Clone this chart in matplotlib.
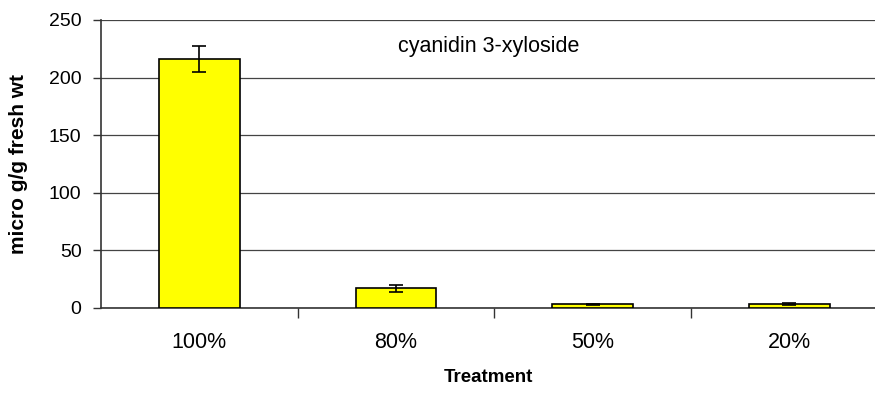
import matplotlib.pyplot as plt
import numpy as np

plt.rcParams['font.family'] = ['Liberation Sans', 'DejaVu Sans']

treatments = ['100%', '80%', '50%', '20%']
values = [216, 17, 3.2, 3.2]
errors = [11, 2.8, 0.3, 1.0]

fig = plt.figure(figsize=(8.75, 4), dpi=100)
ax = fig.add_axes([101 / 875, 92 / 400, 774 / 875, 288 / 400])

x = np.arange(len(treatments))
ax.bar(x, values, width=0.41, color='#ffff00', edgecolor='black', linewidth=1.2, zorder=3)
ax.errorbar(x, values, yerr=errors, fmt='none', ecolor='black', elinewidth=1.2,
            capsize=5, capthick=1.2, zorder=4)

ax.set_ylim(0, 250)
ax.set_xlim(-0.5, 3.435)
ax.set_yticks(np.arange(0, 251, 50))
ax.yaxis.grid(True, color='#444444', linewidth=0.9)
ax.set_axisbelow(True)

ax.set_xticks(x)
ax.set_xticklabels(treatments, fontsize=15.5)
ax.set_xticks([0.5, 1.5, 2.5], minor=True)
ax.tick_params(axis='x', which='major', length=0, pad=17)
ax.tick_params(axis='x', which='minor', length=7, width=1, color='#333333')
ax.tick_params(axis='y', labelsize=14, length=6, width=1, color='#333333', pad=8)

for side in ['top', 'right']:
    ax.spines[side].set_visible(False)
ax.spines['left'].set_color('#333333')
ax.spines['bottom'].set_color('#333333')
ax.spines['left'].set_linewidth(1.2)
ax.spines['bottom'].set_linewidth(1.2)

ax.set_xlabel('Treatment', fontsize=13.5, fontweight='bold', va='center')
ax.xaxis.set_label_coords(0.5, -70 / 288)
ax.set_ylabel('micro g/g fresh wt', fontsize=15, fontweight='bold', va='center')
ax.yaxis.set_label_coords(-82 / 774, 0.5)
ax.text(1.47, 227, 'cyanidin 3-xyloside', fontsize=15.5, va='center', ha='center')

fig.savefig('out.png', dpi=100)
